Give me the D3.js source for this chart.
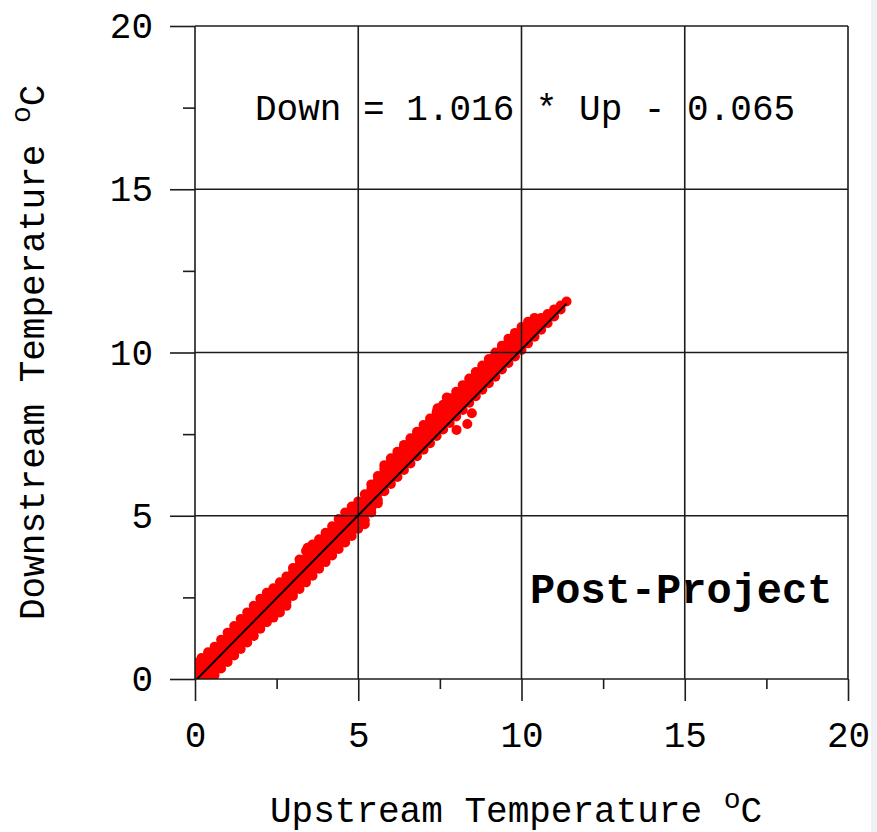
<!DOCTYPE html>
<html>
<head>
<meta charset="utf-8">
<script src="https://cdn.jsdelivr.net/npm/d3@7"></script>
<style>
  html, body { margin: 0; padding: 0; background: #ffffff; }
  svg { display: block; }
  text { font-family: "Liberation Mono", "Courier New", "DejaVu Sans Mono", monospace; fill: #000; }
</style>
</head>
<body>
<svg id="chart" width="877" height="832"></svg>
<script>
// Upstream temperature readings (°C), grouped by upstream value
const upSteps = [0.0, 0.2, 0.4, 0.6, 0.8, 1.0, 1.2, 1.4, 1.6, 1.8, 2.0, 2.2, 2.4, 2.6, 2.8,
  3.0, 3.2, 3.4, 3.6, 3.8, 4.0, 4.2, 4.4, 4.6, 4.8, 5.0, 5.2, 5.4, 5.6, 5.8,
  6.0, 6.2, 6.4, 6.6, 6.8, 7.0, 7.2, 7.4, 7.6, 7.8, 8.0, 8.2, 8.4, 8.6, 8.8,
  9.0, 9.2, 9.4, 9.6, 9.8, 10.0, 10.2, 10.4, 10.6, 10.8, 11.0, 11.2, 11.38];

// Downstream temperature readings (°C) recorded at each upstream value
const downReadings = [
  [0.12, 0.32, 0.50],
  [0.08, 0.28, 0.48, 0.64],
  [0.08, 0.26, 0.46, 0.66, 0.82],
  [0.12, 0.24, 0.44, 0.64, 0.84, 0.99],
  [0.32, 0.45, 0.65, 0.85, 1.05, 1.20],
  [0.52, 0.65, 0.85, 1.05, 1.25, 1.42],
  [0.72, 0.85, 1.05, 1.25, 1.45, 1.62],
  [0.92, 1.06, 1.26, 1.46, 1.66, 1.84],
  [1.12, 1.26, 1.46, 1.66, 1.86, 2.04],
  [1.32, 1.46, 1.66, 1.86, 2.06, 2.24],
  [1.54, 1.67, 1.87, 2.07, 2.27, 2.46],
  [1.74, 1.87, 2.07, 2.27, 2.47, 2.64],
  [1.88, 2.02, 2.22, 2.42, 2.62, 2.78],
  [2.04, 2.16, 2.36, 2.56, 2.76, 2.96],
  [2.24, 2.36, 2.56, 2.76, 2.96, 3.14],
  [2.54, 2.66, 2.86, 3.06, 3.26, 3.40],
  [2.76, 2.89, 3.09, 3.29, 3.49, 3.66],
  [2.96, 3.09, 3.29, 3.49, 3.69, 3.92],
  [3.16, 3.29, 3.49, 3.69, 3.89, 4.12],
  [3.38, 3.50, 3.70, 3.90, 4.10, 4.28],
  [3.58, 3.70, 3.90, 4.10, 4.30, 4.48],
  [3.78, 3.90, 4.10, 4.30, 4.50, 4.68],
  [3.98, 4.11, 4.31, 4.51, 4.71, 4.90],
  [4.18, 4.31, 4.51, 4.71, 4.91, 5.10],
  [4.38, 4.51, 4.71, 4.91, 5.11, 5.28],
  [4.60, 4.72, 4.92, 5.12, 5.32, 5.44],
  [4.74, 4.86, 5.06, 5.26, 5.46, 5.66],
  [5.10, 5.22, 5.42, 5.62, 5.82, 5.96],
  [5.38, 5.48, 5.68, 5.88, 6.08, 6.22],
  [5.75, 5.95, 6.15, 6.35, 6.45, 6.55],
  [5.97, 6.17, 6.37, 6.57, 6.66, 6.76],
  [6.19, 6.39, 6.59, 6.79, 6.86, 6.96],
  [6.40, 6.60, 6.80, 7.00, 7.08, 7.17],
  [6.60, 6.80, 7.00, 7.20, 7.28, 7.37],
  [6.82, 7.02, 7.22, 7.42, 7.48, 7.57],
  [7.02, 7.22, 7.42, 7.62, 7.68, 7.78],
  [7.22, 7.42, 7.62, 7.82, 7.88, 7.98],
  [7.44, 7.64, 7.84, 8.04, 8.10, 8.18],
  [7.64, 7.84, 8.04, 8.24, 8.36, 8.40],
  [7.84, 8.04, 8.24, 8.44, 8.56, 8.60],
  [8.04, 8.24, 8.44, 8.64, 8.70, 8.80],
  [8.24, 8.44, 8.64, 8.84, 8.90, 9.00],
  [8.46, 8.66, 8.86, 9.06, 9.10, 9.20],
  [8.66, 8.86, 9.06, 9.26, 9.30, 9.40],
  [8.86, 9.06, 9.26, 9.46, 9.52, 9.60],
  [9.06, 9.26, 9.46, 9.66, 9.72, 9.80],
  [9.26, 9.46, 9.66, 9.86, 9.92, 10.00],
  [9.48, 9.68, 9.88, 10.08, 10.12, 10.21],
  [9.68, 9.88, 10.08, 10.28, 10.32, 10.42],
  [9.88, 10.08, 10.28, 10.48, 10.52, 10.60],
  [10.08, 10.28, 10.48, 10.66, 10.78],
  [10.28, 10.48, 10.68, 10.80, 10.94],
  [10.48, 10.68, 10.88, 10.96, 11.06],
  [10.70, 10.90, 11.06],
  [10.90, 11.08, 11.18],
  [11.10, 11.26, 11.32],
  [11.32, 11.44],
  [11.56]
];

// Isolated readings away from the main band: [upstream, downstream]
const scattered = [
  [8.01, 7.63], [8.34, 7.81], [8.48, 8.14],
  [7.43, 8.29], [7.71, 8.62], [3.45, 4.02]
];

// Fitted relation stated on the chart
const fitSlope = 1.016;
const fitIntercept = -0.065;
const fitUpRange = [0.0, 11.38];

const majorTicks = [0, 5, 10, 15, 20];
const minorTicks = [2.5, 7.5, 12.5, 17.5];

const points = [];
upSteps.forEach((u, i) => downReadings[i].forEach(d => points.push([u, d])));
scattered.forEach(p => points.push(p));

const svg = d3.select("#chart");
const plotLeft = 195, plotRight = 848, plotTop = 26, plotBottom = 679;

svg.append("rect").attr("width", 877).attr("height", 832).attr("fill", "#ffffff");
svg.append("rect").attr("x", 871).attr("y", 0).attr("width", 6).attr("height", 832).attr("fill", "#eef1f6");

const x = d3.scaleLinear().domain([0, 20]).range([plotLeft, plotRight]);
const y = d3.scaleLinear().domain([0, 20]).range([plotBottom, plotTop]);

svg.append("defs").append("clipPath").attr("id", "plotClip")
  .append("rect").attr("x", plotLeft).attr("y", plotTop)
  .attr("width", plotRight - plotLeft).attr("height", plotBottom - plotTop);

// readings
svg.append("g").attr("clip-path", "url(#plotClip)")
  .selectAll("circle").data(points).join("circle")
  .attr("cx", d => x(d[0])).attr("cy", d => y(d[1]))
  .attr("r", 5).attr("fill", "#ff0000");

const lineColor = "#1c1c1c", lineW = 1.6;

// grid, including the frame
const grid = svg.append("g");
grid.selectAll("line.v").data(majorTicks).join("line").attr("class", "v")
  .attr("x1", d => x(d)).attr("x2", d => x(d)).attr("y1", plotTop).attr("y2", plotBottom)
  .attr("stroke", lineColor).attr("stroke-width", lineW);
grid.selectAll("line.h").data(majorTicks).join("line").attr("class", "h")
  .attr("y1", d => y(d)).attr("y2", d => y(d)).attr("x1", plotLeft).attr("x2", plotRight)
  .attr("stroke", lineColor).attr("stroke-width", lineW);

function styleAxis(g) {
  g.select(".domain").remove();
  g.selectAll(".tick line").attr("stroke", lineColor).attr("stroke-width", lineW);
  g.selectAll(".tick text").attr("font-size", 36)
    .attr("font-family", "'Liberation Mono', 'Courier New', monospace").attr("fill", "#000");
}

// y axis
svg.append("g").attr("transform", `translate(${plotLeft},0)`)
  .call(d3.axisLeft(y).tickValues(majorTicks).tickSize(25).tickPadding(17).tickFormat(d3.format("d")))
  .call(styleAxis);
svg.append("g").attr("transform", `translate(${plotLeft},0)`)
  .call(d3.axisLeft(y).tickValues(minorTicks).tickSize(12).tickFormat(""))
  .call(styleAxis);

// x axis
svg.append("g").attr("transform", `translate(0,${plotBottom})`)
  .call(d3.axisBottom(x).tickValues(majorTicks).tickSize(22).tickPadding(20).tickFormat(d3.format("d")))
  .call(styleAxis);
svg.append("g").attr("transform", `translate(0,${plotBottom})`)
  .call(d3.axisBottom(x).tickValues(minorTicks).tickSize(10).tickFormat(""))
  .call(styleAxis);

// fitted line
const fitLine = d3.line().x(d => x(d)).y(d => y(fitSlope * d + fitIntercept));
svg.append("path").attr("clip-path", "url(#plotClip)")
  .attr("d", fitLine(fitUpRange))
  .attr("fill", "none").attr("stroke", "#000").attr("stroke-width", 2);

// equation
svg.append("text").attr("x", 255).attr("y", 120).attr("font-size", 36)
  .text(`Down = ${fitSlope.toFixed(3)} * Up - ${Math.abs(fitIntercept).toFixed(3)}`);

// period label
svg.append("text").attr("x", 530).attr("y", 603).attr("font-size", 42).attr("font-weight", "bold")
  .text("Post-Project");

// x title
const xt = svg.append("text").attr("x", 270).attr("y", 822).attr("font-size", 36);
xt.append("tspan").text("Upstream Temperature ");
xt.append("tspan").attr("font-size", 28).attr("dy", -14).text("o");
xt.append("tspan").attr("font-size", 36).attr("dy", 14).text("C");

// y title
const yt = svg.append("text").attr("transform", "translate(44,620) rotate(-90)").attr("font-size", 36);
yt.append("tspan").text("Downstream Temperature ");
yt.append("tspan").attr("font-size", 28).attr("dy", -14).text("o");
yt.append("tspan").attr("font-size", 36).attr("dy", 14).text("C");
</script>
</body>
</html>
